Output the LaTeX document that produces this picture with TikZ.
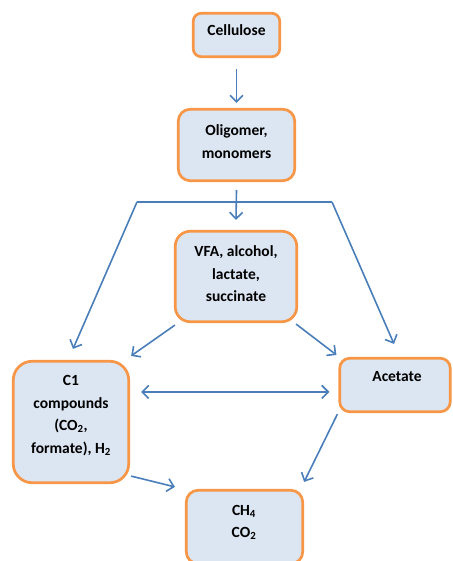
\documentclass[tikz,border=0pt]{standalone}
\usepackage{fontspec}
\setmainfont{Carlito}
\usetikzlibrary{arrows.meta,calc}
\definecolor{lineblue}{HTML}{4A7EBB}
\definecolor{boxfill}{HTML}{DCE6F2}
\definecolor{boxorange}{HTML}{F79646}
\begin{document}
\begin{tikzpicture}[x=1pt,y=-1pt,
  box/.style n args={3}{draw=boxorange, fill=boxfill, line width=2.7pt, rounded corners=#3,
     minimum width=#1, minimum height=#2, inner sep=0pt, rectangle},
  txt/.style={font=\fontsize{15.5}{22.5}\selectfont\bfseries, align=center, inner sep=0pt},
  conn/.style={draw=lineblue, line width=1.6pt},
  arr/.style={conn, -{Straight Barb[length=6.5pt,width=13pt,line width=1.6pt]}}]
\useasboundingbox (0,0) rectangle (452,561);
% boxes
\node[box={86.5pt}{43.5pt}{8pt}]   (cell) at (236.5,35) {};
\node[box={116.5pt}{71.5pt}{12pt}] (olig) at (236.5,145) {};
\node[box={121.5pt}{90.5pt}{15pt}] (vfa)  at (236,276.5) {};
\node[box={115.5pt}{121.5pt}{19pt}](c1)   at (71,422) {};
\node[box={110.5pt}{53.5pt}{10pt}] (acet) at (395,385) {};
\node[box={116.5pt}{73.5pt}{12pt}] (ch4)  at (244.5,527) {};
% texts
\node[txt] (tcell) at (236.5,30) {Cellulose};
\node[txt] (tolig) at (236.5,141.5) {Oligomer,\\monomers};
\node[txt] (tvfa)  at (236,274) {VFA, alcohol,\\lactate,\\succinate};
\node[txt] (tc1)   at (71,415.5) {C1\\compounds\\(CO\textsubscript{2},\\formate), H\textsubscript{2}};
\node[txt] (tacet) at (397,377) {Acetate};
\node[txt] (tch4)  at (244,522.5) {CH\textsubscript{4}\\CO\textsubscript{2}};
% connectors
\draw[arr] ($(cell.south)+(0,11)$) -- ($(olig.north)+(0,-5)$);
\draw[arr] ($(olig.south)+(0,8)$) -- ($(vfa.north)+(0,-10)$);
\coordinate (bl) at (137,202);
\coordinate (br) at (332,202);
\draw[conn] (bl) -- (br);
\draw[arr] (bl) -- ($(c1.north)+(2,-11)$);
\draw[arr] (br) -- ($(acet.north)+(-1,-13)$);
\draw[arr] ($(vfa.south west)+(1,2)$) -- ($(c1.north east)+(1,-4)$);
\draw[arr] ($(vfa.south east)+(-2,1)$) -- ($(acet.north west)+(-2,-2)$);
\draw[conn, {Straight Barb[length=6.5pt,width=13pt,line width=1.6pt]}-{Straight Barb[length=6.5pt,width=13pt,line width=1.6pt]}]
  ($(c1.north east)+(11,32)$) -- ($(acet.north west)+(-9,35)$);
\draw[arr] ($(c1.south east)+(1,-8)$) -- ($(ch4.north west)+(-10,-2)$);
\draw[arr] ($(acet.south west)+(-1,1)$) -- ($(ch4.north east)+(0,-7)$);
\end{tikzpicture}
\end{document}
